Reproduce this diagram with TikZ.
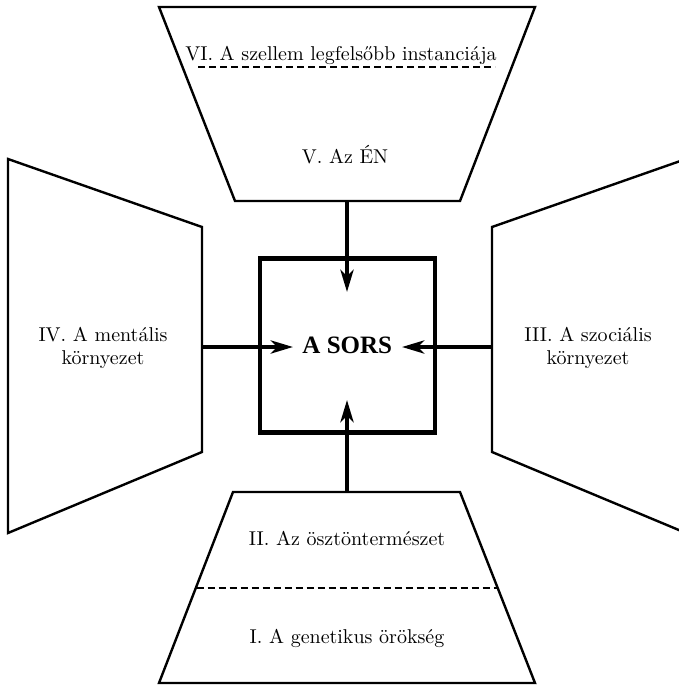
\documentclass[tikz,border=0pt]{standalone}
\usepackage{fontspec}
\newfontfamily\sorsfont{Liberation Serif}
\newfontfamily\labelfont{lmroman10-regular}[Extension=.otf]
\usetikzlibrary{arrows.meta}
\begin{document}
\begin{tikzpicture}[x=1pt,y=-1pt,
  trap/.style={draw, line width=2.4pt, line join=miter},
  sepline/.style={line width=2.4pt, dash pattern=on 7pt off 4pt},
  flow/.style={line width=4.5pt, -{Stealth[length=22pt,width=13pt,inset=6pt]}},
  lbl/.style={font=\labelfont\fontsize{20}{23}\selectfont, align=center, inner sep=0pt},
  core/.style={draw, line width=4.5pt, minimum width=175pt, minimum height=174pt, inner sep=0pt,
    font=\sorsfont\bfseries\fontsize{25}{28}\selectfont}
]
\useasboundingbox (0,0) rectangle (679,685);
\clip (0,0) rectangle (679,685);

% outer blocks
\draw[trap] (159,7) -- (535,7) -- (460,201) -- (235,201) -- cycle;
\draw[trap] (233,492) -- (460,492) -- (535,683) -- (159,683) -- cycle;
\draw[trap] (8,159) -- (202,227) -- (202,452) -- (8,533) -- cycle;
\draw[trap] (686,159) -- (492,227) -- (492,452) -- (686,533) -- cycle;

% separators
\coordinate (d1a) at (198,67);
\coordinate (d1b) at (495,67);
\coordinate (d2a) at (196.5,588);
\coordinate (d2b) at (497.5,588);
\draw[sepline] (d1a) -- (d1b);
\draw[sepline] (d2a) -- (d2b);

% labels
\node[lbl, anchor=base] (six) at (341,60) {VI. A szellem legfelsőbb instanciája};
\node[lbl, anchor=base] (five) at (345,163) {V. Az ÉN};
\node[lbl, anchor=base] (two) at (347,545) {II. Az ösztöntermészet};
\node[lbl, anchor=base] (one) at (347,643) {I. A genetikus örökség};
\node[lbl] (four) at (103,348) {IV. A mentális\\környezet};
\node[lbl] (three) at (588,348) {III. A szociális\\környezet};

% centre
\node[core] (sors) at (347.3,345.4) {A SORS};

% connectors
\coordinate (topout) at (347,201);
\coordinate (topin) at (347,292);
\coordinate (leftout) at (202,347);
\coordinate (leftin) at (293,347);
\coordinate (rightout) at (492,347);
\coordinate (rightin) at (402,347);
\coordinate (botout) at (347,492);
\coordinate (botin) at (347,400);
\draw[flow] (topout) -- (topin);
\draw[flow] (leftout) -- (leftin);
\draw[flow] (rightout) -- (rightin);
\draw[flow] (botout) -- (botin);
\end{tikzpicture}
\end{document}
